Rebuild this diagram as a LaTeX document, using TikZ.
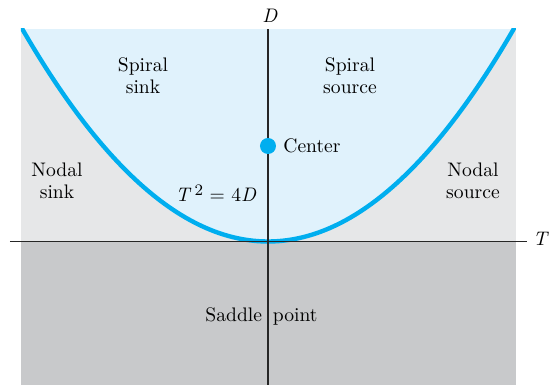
\documentclass[tikz,border=0pt]{standalone}
\usepackage{xcolor}
\usepackage{tikz}
\definecolor{skyfill}{HTML}{E0F2FC}
\definecolor{upgray}{HTML}{E6E7E8}
\definecolor{lowgray}{HTML}{C8C9CB}
\definecolor{curvecyan}{HTML}{00AEEF}

\begin{document}
\begin{tikzpicture}[
  x=0.5pt, y=0.5pt,
  every node/.style={font=\fontsize{9.8}{11}\selectfont, align=center, inner sep=0pt},
  axis/.style={draw=black!85, line width=0.7pt},
  curve/.style={draw=curvecyan, line width=2.2pt}
]
\useasboundingbox (-268,-143.5) rectangle (290,241.5);

% Regions
\fill[upgray] (-247,0) rectangle (248,212.5);
\fill[lowgray] (-247,-143.5) rectangle (248,0);
\fill[skyfill] plot[domain=-245.7:245.7, samples=120] (\x,{(0.05933*\x)^2}) -- cycle;

% Parabola T^2 = 4D
\begin{scope}
  \clip (-247,-143.5) rectangle (248,212.5);
  \draw[curve] plot[domain=-252:252, samples=120] (\x,{(0.05933*\x)^2});
\end{scope}

% Axes
\coordinate (tleft) at (-258,0);
\coordinate (tright) at (259,0);
\coordinate (dbot) at (0,-143.5);
\coordinate (dtop) at (0,212.5);
\draw[axis] (tleft) -- (tright);
\draw[axis] (dbot) -- (dtop);
\node[anchor=base] (dlab) at (2,218.5) {\textit{D}};
\node[anchor=base] (tlab) at (273,-4.5) {\textit{T}};

% Region labels
\node (spsink) at (-125,166) {Spiral\\sink};
\node (spsource) at (82,166) {Spiral\\source};
\node (ndsink) at (-211,61) {Nodal\\sink};
\node (ndsource) at (205,61) {Nodal\\source};
\node[anchor=base] (saddle) at (-6.5,-80.5) {Saddle\hskip 0.55em point};
\node[anchor=base] (parab) at (-52,39.5) {\textit{T}\,\raisebox{0.75ex}{\fontsize{8}{8}\selectfont 2} = 4\textit{D}};

% Center
\node[circle, fill=curvecyan, minimum size=8pt] (center) at (0,95.5) {};
\node[anchor=base west] (centerlab) at (15,88.5) {Center};
\end{tikzpicture}
\end{document}
